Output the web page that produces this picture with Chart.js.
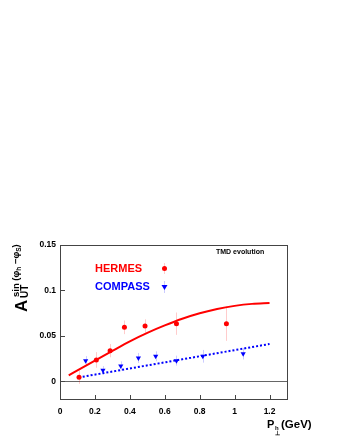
<!DOCTYPE html>
<html>
<head>
<meta charset="utf-8">
<script src="https://cdn.jsdelivr.net/npm/chart.js@4.4.1/dist/chart.umd.min.js"></script>
<style>
  html, body { margin: 0; padding: 0; background: #fff; }
  #wrap { width: 340px; height: 440px; }
</style>
</head>
<body>
<div id="wrap"><canvas id="c" width="340" height="440"></canvas></div>
<script>
// ==================== Data ====================
const hermesX   = [0.109, 0.208, 0.287, 0.369, 0.487, 0.667, 0.953];
const hermesY   = [0.0044, 0.0235, 0.0337, 0.0594, 0.0609, 0.0634, 0.0634];
const hermesErr = [0.0073, 0.0086, 0.0073, 0.0075, 0.0073, 0.0123, 0.0189];

const compassX   = [0.147, 0.246, 0.348, 0.449, 0.548, 0.667, 0.818, 1.049];
const compassY   = [0.0227, 0.0121, 0.0169, 0.0257, 0.0275, 0.0227, 0.0275, 0.0304];
const compassErr = [0.005, 0.0046, 0.005, 0.0055, 0.0055, 0.0055, 0.007, 0.0064];

// theory curves (TMD evolution)
const hermesCurveX = [0.05, 0.1, 0.2, 0.3, 0.4, 0.5, 0.6, 0.7, 0.8, 0.9, 1.0, 1.1, 1.2];
const hermesCurveY = [0.0065, 0.012, 0.0228, 0.0335, 0.044, 0.0533, 0.0615, 0.0688, 0.0748, 0.0796, 0.083, 0.0852, 0.0862];
const compassCurveX = [0.13, 0.4, 0.7, 1.0, 1.2];
const compassCurveY = [0.005, 0.0141, 0.0242, 0.0343, 0.041];

const xTicks = [0, 0.2, 0.4, 0.6, 0.8, 1, 1.2];
const yTicks = [0, 0.05, 0.1, 0.15];

const FONT = "'Liberation Sans', Arial, sans-serif";
const RED = '#ff0000';
const BLUE = '#0000ff';

function pts(xs, ys) {
    return xs.map((x, i) => ({ x: x, y: ys[i] }));
}

function fmt(v) {
    return String(+v.toFixed(2));
}

// ==================== Error bars ====================
const errPlugin = {
    id: 'errbars',
    beforeDatasetsDraw(chart) {
        const ctx = chart.ctx, xs = chart.scales.x, ys = chart.scales.y;
        const sets = [
            [hermesX, hermesY, hermesErr, 'rgba(255,0,0,0.2)'],
            [compassX, compassY, compassErr, 'rgba(0,0,255,0.2)']
        ];
        ctx.save();
        ctx.lineWidth = 1;
        // zero line
        ctx.strokeStyle = '#666';
        const y0 = Math.round(ys.getPixelForValue(0)) + 0.5;
        ctx.beginPath();
        ctx.moveTo(chart.chartArea.left, y0);
        ctx.lineTo(chart.chartArea.right, y0);
        ctx.stroke();
        sets.forEach(s => {
            ctx.strokeStyle = s[3];
            s[0].forEach((x, i) => {
                const px = Math.round(xs.getPixelForValue(x)) + 0.5;
                ctx.beginPath();
                ctx.moveTo(px, ys.getPixelForValue(s[1][i] - s[2][i]));
                ctx.lineTo(px, ys.getPixelForValue(s[1][i] + s[2][i]));
                ctx.stroke();
            });
        });
        ctx.restore();
    }
};

// ==================== Frame, ticks, titles, legend ====================
function drawRuns(ctx, x, y, runs) {
    runs.forEach(r => {
        ctx.font = 'bold ' + r.size + 'px ' + FONT;
        ctx.fillText(r.t, x, y + (r.dy || 0));
        x += ctx.measureText(r.t).width;
    });
}

const framePlugin = {
    id: 'frame',
    afterDraw(chart) {
        const ctx = chart.ctx, ca = chart.chartArea;
        const xs = chart.scales.x, ys = chart.scales.y;
        ctx.save();
        ctx.strokeStyle = '#444';
        ctx.lineWidth = 1;
        ctx.strokeRect(Math.round(ca.left) + 0.5, Math.round(ca.top) + 0.5,
            Math.round(ca.right - ca.left), Math.round(ca.bottom - ca.top));
        ctx.beginPath();
        xTicks.forEach(v => {
            const px = Math.round(xs.getPixelForValue(v)) + 0.5;
            ctx.moveTo(px, ca.bottom);
            ctx.lineTo(px, ca.bottom - 4);
        });
        yTicks.forEach(v => {
            const py = Math.round(ys.getPixelForValue(v)) + 0.5;
            ctx.moveTo(ca.left, py);
            ctx.lineTo(ca.left + 5, py);
        });
        ctx.stroke();

        ctx.fillStyle = '#000';
        ctx.textBaseline = 'alphabetic';
        ctx.textAlign = 'left';

        // x title
        ctx.font = 'bold 11px ' + FONT;
        ctx.fillText('P', 267, 428);
        ctx.font = 'bold 6px ' + FONT;
        ctx.fillText('h', 275, 430);
        ctx.fillText('\u22A5', 275, 435);
        ctx.font = 'bold 11.5px ' + FONT;
        ctx.fillText('(GeV)', 281, 428);

        // y title (rotated)
        ctx.save();
        ctx.translate(27, 312);
        ctx.rotate(-Math.PI / 2);
        ctx.font = 'bold 17px ' + FONT;
        ctx.fillText('A', 0, 0);
        ctx.font = 'bold 10px ' + FONT;
        ctx.fillText('UT', 14, 1);
        drawRuns(ctx, 15, -8, [
            { t: 'sin (\u03C6', size: 9.5 },
            { t: 'h', size: 6.5, dy: 2 },
            { t: ' \u2212\u03C6', size: 9.5 },
            { t: 'S', size: 6.5, dy: 2 },
            { t: ')', size: 9.5 }
        ]);
        ctx.restore();

        // label
        ctx.font = 'bold 7px ' + FONT;
        ctx.textBaseline = 'middle';
        ctx.fillText('TMD evolution', ca.left + 156, ca.top + 7);

        // legend
        ctx.font = 'bold 11px ' + FONT;
        ctx.fillStyle = RED;
        ctx.fillText('HERMES', ca.left + 35, ca.top + 23.5);
        ctx.fillStyle = BLUE;
        ctx.fillText('COMPASS', ca.left + 35, ca.top + 42);

        const mx = Math.round(ca.left + 104) + 0.5;
        ctx.lineWidth = 1;
        ctx.strokeStyle = 'rgba(255,0,0,0.2)';
        ctx.beginPath(); ctx.moveTo(mx, ca.top + 18); ctx.lineTo(mx, ca.top + 29); ctx.stroke();
        ctx.strokeStyle = 'rgba(0,0,255,0.2)';
        ctx.beginPath(); ctx.moveTo(mx, ca.top + 36); ctx.lineTo(mx, ca.top + 48); ctx.stroke();
        ctx.fillStyle = RED;
        ctx.beginPath(); ctx.arc(mx, ca.top + 23.5, 2.5, 0, Math.PI * 2); ctx.fill();
        ctx.fillStyle = BLUE;
        ctx.beginPath();
        ctx.moveTo(mx - 3, ca.top + 40);
        ctx.lineTo(mx + 3, ca.top + 40);
        ctx.lineTo(mx, ca.top + 45);
        ctx.closePath();
        ctx.fill();
        ctx.restore();
    }
};

// ==================== Chart ====================
new Chart(document.getElementById('c'), {
    type: 'scatter',
    data: {
        datasets: [
            {
                data: pts(hermesCurveX, hermesCurveY),
                showLine: true,
                borderColor: RED,
                borderWidth: 2,
                pointRadius: 0,
                cubicInterpolationMode: 'monotone'
            },
            {
                data: pts(compassCurveX, compassCurveY),
                showLine: true,
                borderColor: BLUE,
                borderWidth: 2,
                borderDash: [2, 2],
                pointRadius: 0,
                cubicInterpolationMode: 'monotone'
            },
            {
                data: pts(hermesX, hermesY),
                pointStyle: 'circle',
                pointRadius: 2.5,
                backgroundColor: RED,
                borderWidth: 0
            },
            {
                data: pts(compassX, compassY),
                pointStyle: 'triangle',
                rotation: 180,
                pointRadius: 3,
                backgroundColor: BLUE,
                borderWidth: 0
            }
        ]
    },
    options: {
        responsive: false,
        animation: false,
        events: [],
        layout: { padding: { top: 245, right: 53, left: 0, bottom: 0 } },
        plugins: { legend: { display: false }, tooltip: { enabled: false } },
        scales: {
            x: {
                type: 'linear',
                min: 0,
                max: 1.3,
                afterBuildTicks: s => { s.ticks = xTicks.map(v => ({ value: v })); },
                afterFit: s => { s.height = 41; },
                grid: { display: false, drawTicks: false },
                border: { display: false },
                ticks: {
                    padding: 8,
                    color: '#000',
                    maxRotation: 0,
                    font: { family: FONT, size: 8.5, weight: 'bold' },
                    callback: v => fmt(v)
                }
            },
            y: {
                type: 'linear',
                min: -0.0195,
                max: 0.15,
                afterBuildTicks: s => { s.ticks = yTicks.map(v => ({ value: v })); },
                afterFit: s => { s.width = 60; },
                grid: { display: false, drawTicks: false },
                border: { display: false },
                ticks: {
                    padding: 4,
                    color: '#000',
                    font: { family: FONT, size: 8.5, weight: 'bold' },
                    callback: v => fmt(v)
                }
            }
        }
    },
    plugins: [errPlugin, framePlugin]
});
</script>
</body>
</html>
